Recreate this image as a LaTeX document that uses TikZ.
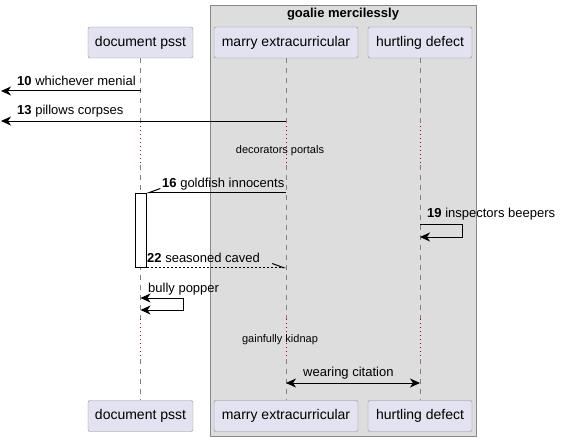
\documentclass[tikz,border=0pt]{standalone}
\usepackage{fontspec}
\setmainfont{Liberation Sans}
\usetikzlibrary{arrows.meta,positioning}

\definecolor{partfill}{HTML}{E2E2F0}
\definecolor{partline}{HTML}{8E8E8E}
\definecolor{grpfill}{HTML}{DDDDDD}
\definecolor{grpline}{HTML}{888888}
\definecolor{delayred}{HTML}{A80036}

\begin{document}
\begin{tikzpicture}[x=1pt,y=-1pt,
    part/.style={draw=partline,fill=partfill,rounded corners=2pt,minimum height=31pt,
        inner sep=0pt,font=\fontsize{14}{16}\selectfont},
    grp/.style={draw=grpline,fill=grpfill,line width=1pt,inner sep=0pt},
    life/.style={draw=gray,line width=0.8pt,dash pattern=on 5pt off 5pt},
    delay/.style={draw=delayred,line width=0.8pt,dash pattern=on 1pt off 3pt},
    act/.style={draw=black,fill=white,line width=1pt,inner sep=0pt,minimum width=11pt,minimum height=74pt},
    msg/.style={line width=1pt,-{Stealth[length=10pt,width=9pt,inset=3pt]}},
    dmsg/.style={line width=1pt,{Stealth[length=10pt,width=9pt,inset=3pt]}-{Stealth[length=10pt,width=9pt,inset=3pt]}},
    half/.style={line width=1pt,-{Straight Barb[harpoon,length=11pt,width=8pt]}},
    halfswap/.style={line width=1pt,-{Straight Barb[harpoon,swap,length=11pt,width=8pt]}},
    lbl/.style={anchor=west,inner sep=0pt,font=\fontsize{13}{15}\selectfont},
    note/.style={inner sep=0pt,font=\fontsize{11}{13}\selectfont}]
    \useasboundingbox (0,0) rectangle (561,441);

    \node[grp,minimum width=266pt,minimum height=430pt] (box) at (343,221) {};
    \node[inner sep=0pt,font=\fontsize{13}{15}\selectfont\bfseries] (boxtitle) at (343,14) {goalie mercilessly};

    \node[part,minimum width=105pt] (dp) at (140.5,42.5) {document psst};
    \node[part,minimum width=144pt] (me) at (286,42.5) {marry extracurricular};
    \node[part,minimum width=104pt] (hd) at (420,42.5) {hurtling defect};
    \node[part,minimum width=105pt] (dp-end) at (140.5,416) {document psst};
    \node[part,minimum width=144pt] (me-end) at (286,416) {marry extracurricular};
    \node[part,minimum width=104pt] (hd-end) at (420,416) {hurtling defect};

    \coordinate (d1a) at (0,126);
    \coordinate (d1b) at (0,165);
    \coordinate (d2a) at (0,319);
    \coordinate (d2b) at (0,359);
    \foreach \p in {dp,me,hd} {
        \draw[life] (\p.south) -- (\p.south |- d1a);
        \draw[delay] (\p.south |- d1a) -- (\p.south |- d1b);
        \draw[life] (\p.south |- d1b) -- (\p.south |- d2a);
        \draw[delay] (\p.south |- d2a) -- (\p.south |- d2b);
        \draw[life] (\p.south |- d2b) -- (\p-end.north);
    }

    \node[act] (dpact) at (140.5,230) {};

    \coordinate (out10) at (1,91);
    \coordinate (out13) at (1,121);
    \coordinate (r19) at (462,224);
    \coordinate (b19) at (0,237);
    \coordinate (bpa) at (183,298);
    \coordinate (bpb) at (183,310);
    \coordinate (wc) at (0,383);

    \draw[msg] (dp.south |- out10) -- (out10);
    \node[lbl] (l10) at (17,81) {\textbf{10} whichever menial};
    \draw[msg] (me.south |- out13) -- (out13);
    \node[lbl] (l13) at (17,111) {\textbf{13} pillows corpses};
    \node[note] (n1) at (280,151) {decorators portals};
    \draw[halfswap] (me.south |- dpact.north) -- (dpact.north east);
    \node[lbl] (l16) at (162,184) {\textbf{16} goldfish innocents};
    \draw[msg] (hd.south |- r19) -- (r19) |- (hd.south |- b19);
    \node[lbl] (l19) at (427,214) {\textbf{19} inspectors beepers};
    \draw[half,dash pattern=on 2pt off 2pt] (dpact.south east) -- (me.south |- dpact.south);
    \node[lbl] (l22) at (147,258) {\textbf{22} seasoned caved};
    \draw[dmsg] (dp.south |- bpa) -- (bpa) -- (bpb) -- (dp.south |- bpb);
    \node[lbl] (lbp) at (148,289) {bully popper};
    \node[note] (n2) at (280,340) {gainfully kidnap};
    \draw[dmsg] (me.south |- wc) -- (hd.south |- wc);
    \node[lbl] (lwc) at (303,373.5) {wearing citation};
\end{tikzpicture}
\end{document}
